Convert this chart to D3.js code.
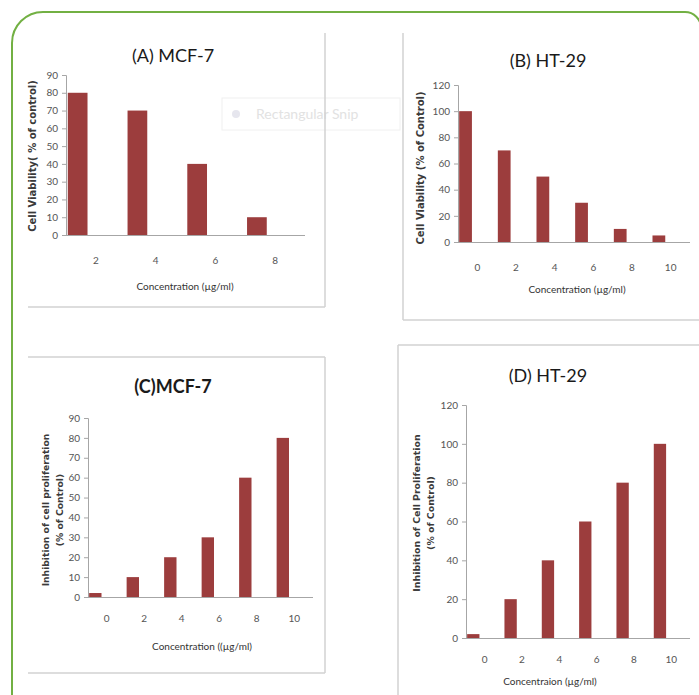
<!DOCTYPE html>
<html>
<head>
<meta charset="utf-8">
<script src="https://cdn.jsdelivr.net/npm/d3@7"></script>
<style>
  body { margin: 0; background: #fff; }
  svg { display: block; }
  .tick text { font-family: Lato, sans-serif; font-size: 10px; fill: #555; }
  .domain, .tick line { stroke: #a6a6a6; }
</style>
</head>
<body>
<svg id="chart" width="699" height="695"></svg>
<script>
// values
var concA = ["2", "4", "6", "8"];
var viabilityA = [80, 70, 40, 10];

var concB = ["0", "2", "4", "6", "8", "10"];
var viabilityB = [100, 70, 50, 30, 10, 5];

var concC = ["0", "2", "4", "6", "8", "10"];
var inhibitionC = [2, 10, 20, 30, 60, 80];

var concD = ["0", "2", "4", "6", "8", "10"];
var inhibitionD = [2, 20, 40, 60, 80, 100];

var ticks90 = [0, 10, 20, 30, 40, 50, 60, 70, 80, 90];
var ticks120 = [0, 20, 40, 60, 80, 100, 120];

var svg = d3.select("#chart");
var barColor = "#9c3d3d";

// green frame of the page
svg.append("path")
    .attr("d", "M12,700 L12,43 A31,31 0 0 1 43,12 L685,12 A16,16 0 0 1 701,28 L701,700")
    .attr("fill", "none")
    .attr("stroke", "#72b043")
    .attr("stroke-width", 2);

// faint screen-capture leftover behind panel A/B
var snip = svg.append("g");
snip.append("rect").attr("x", 222).attr("y", 98).attr("width", 178).attr("height", 32)
    .attr("fill", "#fff").attr("stroke", "#f0f0f0");
snip.append("circle").attr("cx", 236).attr("cy", 114).attr("r", 4).attr("fill", "#e6e6ee");
snip.append("text").attr("x", 256).attr("y", 119)
    .style("font-family", "Lato, sans-serif").style("font-size", "14px").style("fill", "#e2e2e2")
    .text("Rectangular Snip");

var panels = [
    {cats: concA, vals: viabilityA, ticks: ticks90, max: 90,
     box: [28, 33, 297, 274], sides: "rb",
     x0: 66, x1: 305, y0: 235, yTop: 75, tickPad: 22,
     title: "(A) MCF-7", tx: 173, ty: 62, tw: "normal",
     xTitle: "Concentration (\u00b5g/ml)", xtx: 185, xty: 290,
     yTitle: ["Cell Viability( % of control)"], ytx: 36, yty: 156, ys: 10},
    {cats: concB, vals: viabilityB, ticks: ticks120, max: 120,
     box: [403, 33, 300, 287], sides: "lb",
     x0: 458, x1: 690, y0: 242, yTop: 85, tickPad: 22,
     title: "(B) HT-29", tx: 548, ty: 67, tw: "normal",
     xTitle: "Concentration (\u00b5g/ml)", xtx: 577, xty: 293,
     yTitle: ["Cell Viability  (% of Control)"], ytx: 424, yty: 168, ys: 10},
    {cats: concC, vals: inhibitionC, ticks: ticks90, max: 90,
     box: [28, 357, 297, 316], sides: "trb",
     x0: 88, x1: 313, y0: 597, yTop: 418, tickPad: 18,
     title: "(C)MCF-7", tx: 173, ty: 393, tw: "bold",
     xTitle: "Concentration ((\u00b5g/ml)", xtx: 202, xty: 650,
     yTitle: ["Inhibition of cell proliferation", "(% of Control)"], ytx: 49, yty: 510, ys: 9.2},
    {cats: concD, vals: inhibitionD, ticks: ticks120, max: 120,
     box: [398, 345, 310, 360], sides: "tl",
     x0: 466, x1: 690, y0: 638, yTop: 405, tickPad: 18,
     title: "(D) HT-29", tx: 548, ty: 382, tw: "normal",
     xTitle: "Concentraion (\u00b5g/ml)", xtx: 550, xty: 685,
     yTitle: ["Inhibition of Cell Proliferation", "(% of Control)"], ytx: 420, yty: 513, ys: 9.4}
];

panels.forEach(function (p) {
    var g = svg.append("g");
    var bx = p.box[0], by = p.box[1], bw = p.box[2], bh = p.box[3];

    // panel frame, only the sides that show in the figure
    var edges = {
        t: [bx, by, bx + bw, by], b: [bx, by + bh, bx + bw, by + bh],
        l: [bx, by, bx, by + bh], r: [bx + bw, by, bx + bw, by + bh]
    };
    p.sides.split("").forEach(function (s) {
        var e = edges[s];
        g.append("line").attr("x1", e[0]).attr("y1", e[1]).attr("x2", e[2]).attr("y2", e[3])
            .attr("stroke", "#d2d2d2").attr("stroke-width", 1.5);
    });

    var x = d3.scaleBand().domain(p.cats).range([p.x0, p.x1]).padding(0);
    var y = d3.scaleLinear().domain([0, p.max]).range([p.y0, p.yTop]);

    g.selectAll(".bar")
        .data(p.vals)
        .enter().append("rect")
        .attr("class", "bar")
        .attr("x", function (d, i) { return x(p.cats[i]) + x.bandwidth() * 0.03; })
        .attr("width", x.bandwidth() * 0.33)
        .attr("y", function (d) { return y(d); })
        .attr("height", function (d) { return p.y0 - y(d); })
        .attr("fill", barColor);

    g.append("g")
        .attr("transform", "translate(" + p.x0 + ",0)")
        .call(d3.axisLeft(y).tickValues(p.ticks).tickSize(4).tickPadding(4));

    g.append("g")
        .attr("transform", "translate(0," + p.y0 + ")")
        .call(d3.axisBottom(x).tickSize(0).tickPadding(p.tickPad))
        .call(function (a) { a.select(".domain").attr("d", "M" + p.x0 + ",0.5H" + p.x1); });

    g.append("text")
        .attr("x", p.tx).attr("y", p.ty)
        .attr("text-anchor", "middle")
        .style("font-family", "Lato, sans-serif")
        .style("font-size", "18px")
        .style("font-weight", p.tw)
        .style("fill", "#1a1a1a")
        .text(p.title);

    g.append("text")
        .attr("x", p.xtx).attr("y", p.xty)
        .attr("text-anchor", "middle")
        .style("font-family", "Lato, sans-serif")
        .style("font-size", "10px")
        .style("fill", "#333")
        .text(p.xTitle);

    p.yTitle.forEach(function (line, i) {
        g.append("text")
            .attr("transform", "translate(" + (p.ytx + i * 14) + "," + p.yty + ") rotate(-90)")
            .attr("text-anchor", "middle")
            .style("font-family", "'DejaVu Sans', sans-serif")
            .style("font-size", p.ys + "px")
            .style("font-weight", "bold")
            .style("fill", "#3a3a3a")
            .text(line);
    });
});
</script>
</body>
</html>
